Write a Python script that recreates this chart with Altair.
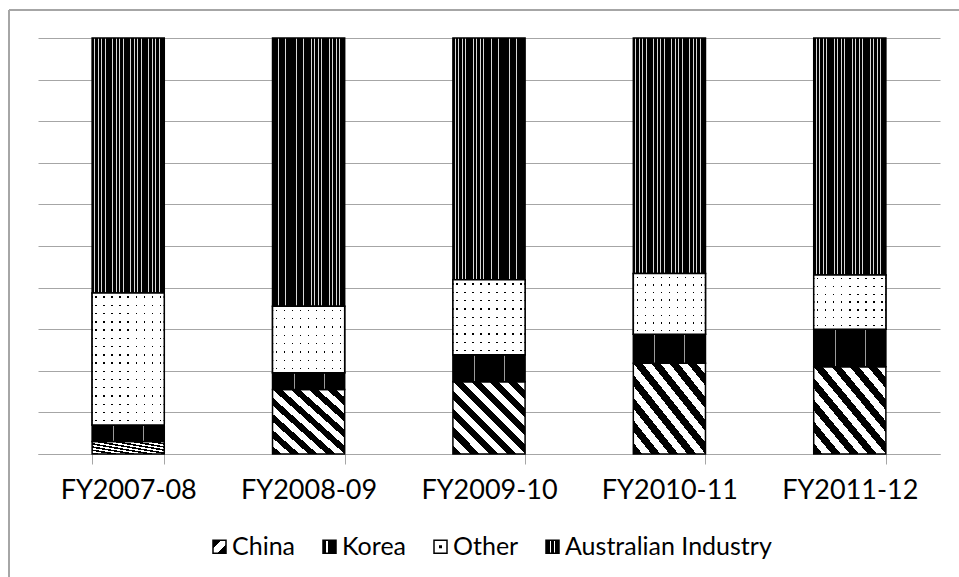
import json
import altair as alt
import pandas as pd

# Market share by supplier (%), one list per series, read per financial year
years = ["FY2007-08", "FY2008-09", "FY2009-10", "FY2010-11", "FY2011-12"]
series = ["China", "Korea", "Other", "Australian Industry"]
china = [3.0, 15.5, 17.4, 21.8, 21.0]
korea = [4.0, 4.0, 6.5, 7.0, 9.0]
other = [31.7, 16.0, 18.0, 14.6, 13.1]
australian_industry = [61.3, 64.4, 58.2, 56.6, 57.0]

values_by_series = [china, korea, other, australian_industry]
rows = []
for i, year in enumerate(years):
    for rank, (name, vals) in enumerate(zip(series, values_by_series)):
        rows.append({"year": year, "series": name, "rank": rank, "share": vals[i]})
df = pd.DataFrame(rows)

PLOT_W, PLOT_H = 902, 416
BAR_W = 72.0
FONT = "Lato"
GRID = "#a6a6a6"
CLEAR = "rgba(255,255,255,0)"


def banded(bands, size, fg, bg, x1=0, y1=0, x2=1, y2=0):
    """Linear gradient with hard-edged bands; bands are (start, end) in units of size."""
    stops = [{"offset": 0, "color": bg}]
    for a, b in bands:
        a, b = max(a / size, 0.0), min(b / size, 1.0)
        stops += [{"offset": a, "color": bg}, {"offset": a, "color": fg},
                  {"offset": b, "color": fg}, {"offset": b, "color": bg}]
    stops.append({"offset": 1, "color": bg})
    return {"gradient": "linear", "x1": x1, "y1": y1, "x2": x2, "y2": y2, "stops": stops}


def diagonal(periods, fg="black", bg="white", frac=0.5):
    bands = [(k, k + frac) for k in range(periods)]
    return banded(bands, periods, fg, bg, x1=0, y1=1, x2=1, y2=0)


# hatch fills for the bars
china_fill = diagonal(8, frac=0.5)
korea_fill = banded([(21, 22), (51, 52)], BAR_W, "#9a9a9a", "black")
aus_fill = banded([(s + o, s + o + 0.9) for s in (2, 20, 38, 56) for o in (0, 3.5, 7, 10.5)],
                  BAR_W, "#d8d8d8", "black")
dot_cols = banded([(c - 0.7, c + 0.7) for c in range(4, 72, 8)], BAR_W, "black", "white")


def dot_rows(height):
    n = max(1, round(height / 8))
    step = height / n
    bands = [((k + 0.5) * step - 0.7, (k + 0.5) * step + 0.7) for k in range(n)]
    return banded(bands, height, CLEAR, "white", x1=0, y1=0, x2=0, y2=1)


# legend swatches
legend_fills = [
    banded([(0.32, 0.68)], 1, "white", "black", x1=0, y1=0, x2=1, y2=1),
    banded([(0.25, 0.4)], 1, "white", "black", x1=0, y1=0, x2=1, y2=0),
    {"gradient": "radial", "x1": 0.5, "y1": 0.5, "x2": 0.5, "y2": 0.5, "r1": 0, "r2": 0.5,
     "stops": [{"offset": 0, "color": "black"}, {"offset": 0.22, "color": "black"},
               {"offset": 0.22, "color": "white"}, {"offset": 1, "color": "white"}]},
    banded([(0.3, 0.42), (0.58, 0.7)], 1, "white", "black", x1=0, y1=0, x2=1, y2=0),
]
legend_range = [alt.ExprRef(json.dumps(g)) for g in legend_fills]

base = alt.Chart(df).transform_stack(
    stack="share", groupby=["year"], as_=["lo", "hi"], offset="normalize",
    sort=[alt.SortField("rank", order="ascending")],
)

x_main = alt.X(
    "year:N", sort=years, title=None,
    scale=alt.Scale(paddingInner=0.6, paddingOuter=0.3),
    axis=alt.Axis(
        labelAngle=0, labelFont=FONT, labelFontSize=27, labelColor="black",
        labelPadding=13, tickBand="extent", tickSize=10, tickColor=GRID,
        domainColor=GRID, domainWidth=1, tickWidth=1,
    ),
)
x_plain = alt.X("year:N", sort=years)
y_main = alt.Y(
    "lo:Q", title=None, scale=alt.Scale(domain=[0, 1]),
    axis=alt.Axis(values=[i / 10 for i in range(11)], labels=False, ticks=False,
                  domain=False, gridColor=GRID, gridWidth=1),
)
y_plain = alt.Y("lo:Q")

legend_layer = base.mark_bar().encode(
    x=x_main, y=y_main, y2="hi:Q",
    color=alt.Color(
        "series:N", title=None,
        scale=alt.Scale(domain=series, range=legend_range),
        legend=alt.Legend(
            orient="none", direction="horizontal", legendX=169, legendY=496,
            labelFont=FONT, labelFontSize=25, labelColor="black", labelOffset=0,
            labelLimit=400, columnPadding=21, symbolType="square", symbolSize=169,
            symbolStrokeColor="black", symbolStrokeWidth=1.5, padding=0,
        ),
    ),
)

hatch_layer = base.mark_bar(stroke="black", strokeWidth=1.5).encode(
    x=x_plain, y=y_plain, y2="hi:Q",
    color={
        "condition": [
            {"test": "datum.series === 'China'", "value": china_fill},
            {"test": "datum.series === 'Korea'", "value": korea_fill},
            {"test": "datum.series === 'Other'", "value": dot_cols},
        ],
        "value": aus_fill,
    },
)

# dotted fill: white rows with clear gaps over the column lines underneath
row_conditions = [
    {"test": f"datum.year === '{yr}'", "value": dot_rows(v / 100 * PLOT_H)}
    for yr, v in zip(years, other)
]
dots_layer = base.transform_filter("datum.series === 'Other'").mark_bar(
    stroke="black", strokeWidth=1.5
).encode(
    x=x_plain, y=y_plain, y2="hi:Q",
    color={"condition": row_conditions[:-1], "value": row_conditions[-1]["value"]},
)

frame = alt.Chart(alt.Data(values=[{}]))
frame_left = frame.mark_rule(color="#a6a6a6", strokeWidth=2).encode(
    x=alt.value(-29), y=alt.value(-28), y2=alt.value(540)
)
frame_top = frame.mark_rule(color="#a6a6a6", strokeWidth=2).encode(
    x=alt.value(-29), x2=alt.value(922), y=alt.value(-28)
)

chart = alt.layer(legend_layer, hatch_layer, dots_layer, frame_left, frame_top).properties(
    width=PLOT_W, height=PLOT_H,
    autosize=alt.AutoSizeParams(type="none"),
    padding={"left": 38, "top": 38, "right": 19, "bottom": 123},
).configure_view(stroke=None)

chart.save("out.html", embed_options={"renderer": "svg", "actions": False})
